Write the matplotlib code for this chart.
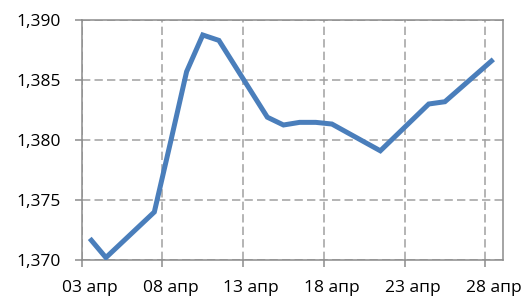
import numpy as np
import matplotlib
matplotlib.use("Agg")
import matplotlib.pyplot as plt
from matplotlib.ticker import FixedLocator, FuncFormatter, NullFormatter

# Дни апреля (торговые дни) и значения курса
days = [3, 4, 7, 8, 9, 10, 11, 14, 15, 16, 17, 18, 21, 24, 25, 28]
values = [1.3718, 1.3702, 1.3740, 1.3798, 1.3857, 1.38875, 1.3883,
          1.3819, 1.38125, 1.38147, 1.38147, 1.38133, 1.3791,
          1.3830, 1.38319, 1.38672]

tick_days = [3, 8, 13, 18, 23, 28]
month_label = "апр"
y_ticks = [1.370, 1.375, 1.380, 1.385, 1.390]

plt.rcParams['font.family'] = ['Open Sans', 'DejaVu Sans']
plt.rcParams['lines.scale_dashes'] = False

fig = plt.figure(figsize=(5.26, 2.98), dpi=100)
ax = fig.add_axes([0.1553, 0.1275, 0.8010, 0.8054])

# точки и подписи стоят в середине дня, как в Excel
x = np.array(days) + 0.5
ax.plot(x, values, color='#4a7ebb', linewidth=3.6, solid_joinstyle='miter',
        solid_capstyle='butt', zorder=3)

ax.set_xlim(3, 29.1)
ax.set_ylim(1.370, 1.390)

ax.xaxis.set_major_locator(FixedLocator(tick_days))
ax.xaxis.set_major_formatter(NullFormatter())
ax.xaxis.set_minor_locator(FixedLocator([d + 0.5 for d in tick_days]))
ax.xaxis.set_minor_formatter(FuncFormatter(lambda v, p: f"{int(v):02d} {month_label}"))
ax.yaxis.set_major_locator(FixedLocator(y_ticks))
ax.yaxis.set_major_formatter(FuncFormatter(lambda v, p: f"{v:.3f}".replace('.', ',')))

ax.grid(True, which='major', color='#a0a0a0', linestyle=(0, (6, 3)), linewidth=1.1, zorder=1)
for s in ax.spines.values():
    s.set_color('#8c8c8c')
    s.set_linewidth(1.1)

ax.tick_params(axis='both', which='major', direction='out', length=5, width=1.1,
               color='#8c8c8c', labelsize=12.5, labelcolor='#000000')
ax.tick_params(axis='x', which='minor', length=0, labelsize=12.5, pad=14.5)
ax.tick_params(axis='y', pad=10)

fig.savefig('out.png', dpi=100)
